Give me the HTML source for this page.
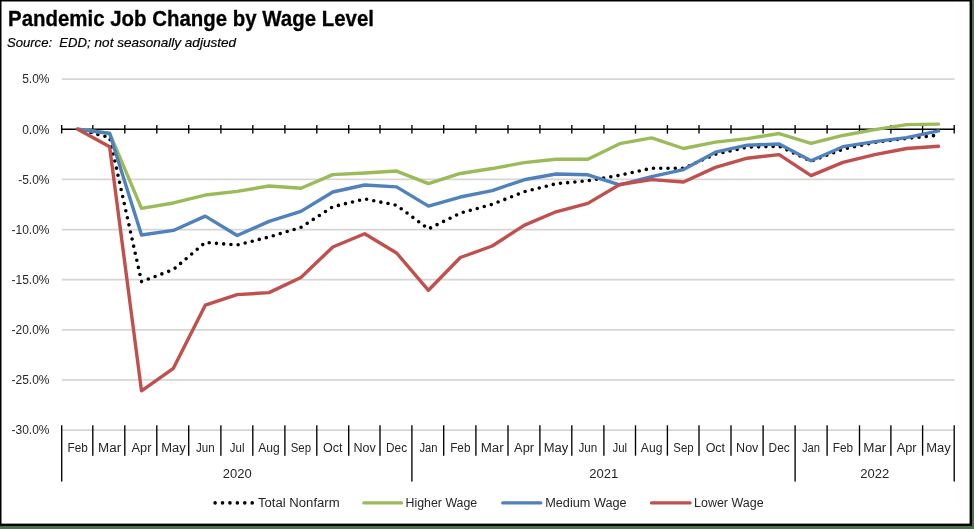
<!DOCTYPE html><html><head><meta charset="utf-8"><style>html,body{margin:0;padding:0;background:#4a744e;}svg{display:block;will-change:transform}</style></head><body>
<svg width="974" height="529" viewBox="0 0 974 529">
<rect x="0" y="0" width="974" height="529" fill="#4a744e"/>
<rect x="0" y="0" width="972" height="526" fill="#000"/>
<rect x="1.5" y="1.5" width="968.1" height="522.1" fill="#fff"/>
<text x="8.0" y="26.1" font-family="&quot;Liberation Sans&quot;, sans-serif" font-weight="bold" font-size="21.5" fill="#000" stroke="#000" stroke-width="0.3" textLength="366"  lengthAdjust="spacingAndGlyphs">Pandemic Job Change by Wage Level</text>
<text x="6.9" y="46.6" font-family="&quot;Liberation Sans&quot;, sans-serif" font-style="italic" font-size="13" fill="#000" stroke="#000" stroke-width="0.2" textLength="83.8" lengthAdjust="spacingAndGlyphs" xml:space="preserve">Source:  EDD;</text>
<text x="94.6" y="46.6" font-family="&quot;Liberation Sans&quot;, sans-serif" font-style="italic" font-size="13" fill="#000" stroke="#000" stroke-width="0.2" textLength="141.4" lengthAdjust="spacingAndGlyphs">not seasonally adjusted</text>
<line x1="61.80" y1="79.09" x2="954.50" y2="79.09" stroke="#d6d6d6" stroke-width="1.7"/>
<line x1="61.80" y1="179.38" x2="954.50" y2="179.38" stroke="#d6d6d6" stroke-width="1.7"/>
<line x1="61.80" y1="229.53" x2="954.50" y2="229.53" stroke="#d6d6d6" stroke-width="1.7"/>
<line x1="61.80" y1="279.68" x2="954.50" y2="279.68" stroke="#d6d6d6" stroke-width="1.7"/>
<line x1="61.80" y1="329.82" x2="954.50" y2="329.82" stroke="#d6d6d6" stroke-width="1.7"/>
<line x1="61.80" y1="379.97" x2="954.50" y2="379.97" stroke="#d6d6d6" stroke-width="1.7"/>
<line x1="61.80" y1="430.11" x2="954.50" y2="430.11" stroke="#d6d6d6" stroke-width="1.7"/>
<text x="49.5" y="83.39" font-family="&quot;Liberation Sans&quot;, sans-serif" font-size="12" fill="#262626" text-anchor="end">5.0%</text>
<text x="49.5" y="133.54" font-family="&quot;Liberation Sans&quot;, sans-serif" font-size="12" fill="#262626" text-anchor="end">0.0%</text>
<text x="49.5" y="183.68" font-family="&quot;Liberation Sans&quot;, sans-serif" font-size="12" fill="#262626" text-anchor="end">-5.0%</text>
<text x="49.5" y="233.83" font-family="&quot;Liberation Sans&quot;, sans-serif" font-size="12" fill="#262626" text-anchor="end">-10.0%</text>
<text x="49.5" y="283.97" font-family="&quot;Liberation Sans&quot;, sans-serif" font-size="12" fill="#262626" text-anchor="end">-15.0%</text>
<text x="49.5" y="334.12" font-family="&quot;Liberation Sans&quot;, sans-serif" font-size="12" fill="#262626" text-anchor="end">-20.0%</text>
<text x="49.5" y="384.26" font-family="&quot;Liberation Sans&quot;, sans-serif" font-size="12" fill="#262626" text-anchor="end">-25.0%</text>
<text x="49.5" y="434.41" font-family="&quot;Liberation Sans&quot;, sans-serif" font-size="12" fill="#262626" text-anchor="end">-30.0%</text>
<line x1="61.80" y1="129.14" x2="954.50" y2="129.14" stroke="#000" stroke-width="1.5"/>
<line x1="61.70" y1="125" x2="61.70" y2="133.6" stroke="#000" stroke-width="1.35"/>
<line x1="92.80" y1="125" x2="92.80" y2="133.6" stroke="#000" stroke-width="1.35"/>
<line x1="124.80" y1="125" x2="124.80" y2="133.6" stroke="#000" stroke-width="1.35"/>
<line x1="156.80" y1="125" x2="156.80" y2="133.6" stroke="#000" stroke-width="1.35"/>
<line x1="188.70" y1="125" x2="188.70" y2="133.6" stroke="#000" stroke-width="1.35"/>
<line x1="220.90" y1="125" x2="220.90" y2="133.6" stroke="#000" stroke-width="1.35"/>
<line x1="252.80" y1="125" x2="252.80" y2="133.6" stroke="#000" stroke-width="1.35"/>
<line x1="284.90" y1="125" x2="284.90" y2="133.6" stroke="#000" stroke-width="1.35"/>
<line x1="316.80" y1="125" x2="316.80" y2="133.6" stroke="#000" stroke-width="1.35"/>
<line x1="348.70" y1="125" x2="348.70" y2="133.6" stroke="#000" stroke-width="1.35"/>
<line x1="380.00" y1="125" x2="380.00" y2="133.6" stroke="#000" stroke-width="1.35"/>
<line x1="411.90" y1="125" x2="411.90" y2="133.6" stroke="#000" stroke-width="1.35"/>
<line x1="443.70" y1="125" x2="443.70" y2="133.6" stroke="#000" stroke-width="1.35"/>
<line x1="475.90" y1="125" x2="475.90" y2="133.6" stroke="#000" stroke-width="1.35"/>
<line x1="508.00" y1="125" x2="508.00" y2="133.6" stroke="#000" stroke-width="1.35"/>
<line x1="539.90" y1="125" x2="539.90" y2="133.6" stroke="#000" stroke-width="1.35"/>
<line x1="571.80" y1="125" x2="571.80" y2="133.6" stroke="#000" stroke-width="1.35"/>
<line x1="603.90" y1="125" x2="603.90" y2="133.6" stroke="#000" stroke-width="1.35"/>
<line x1="635.50" y1="125" x2="635.50" y2="133.6" stroke="#000" stroke-width="1.35"/>
<line x1="667.40" y1="125" x2="667.40" y2="133.6" stroke="#000" stroke-width="1.35"/>
<line x1="699.00" y1="125" x2="699.00" y2="133.6" stroke="#000" stroke-width="1.35"/>
<line x1="731.00" y1="125" x2="731.00" y2="133.6" stroke="#000" stroke-width="1.35"/>
<line x1="763.10" y1="125" x2="763.10" y2="133.6" stroke="#000" stroke-width="1.35"/>
<line x1="795.10" y1="125" x2="795.10" y2="133.6" stroke="#000" stroke-width="1.35"/>
<line x1="827.10" y1="125" x2="827.10" y2="133.6" stroke="#000" stroke-width="1.35"/>
<line x1="859.50" y1="125" x2="859.50" y2="133.6" stroke="#000" stroke-width="1.35"/>
<line x1="890.90" y1="125" x2="890.90" y2="133.6" stroke="#000" stroke-width="1.35"/>
<line x1="922.60" y1="125" x2="922.60" y2="133.6" stroke="#000" stroke-width="1.35"/>
<line x1="954.20" y1="125" x2="954.20" y2="133.6" stroke="#000" stroke-width="1.35"/>
<line x1="61.70" y1="425.3" x2="61.70" y2="481.5" stroke="#000" stroke-width="1.35"/>
<line x1="92.80" y1="425.3" x2="92.80" y2="455.7" stroke="#000" stroke-width="1.35"/>
<line x1="124.80" y1="425.3" x2="124.80" y2="455.7" stroke="#000" stroke-width="1.35"/>
<line x1="156.80" y1="425.3" x2="156.80" y2="455.7" stroke="#000" stroke-width="1.35"/>
<line x1="188.70" y1="425.3" x2="188.70" y2="455.7" stroke="#000" stroke-width="1.35"/>
<line x1="220.90" y1="425.3" x2="220.90" y2="455.7" stroke="#000" stroke-width="1.35"/>
<line x1="252.80" y1="425.3" x2="252.80" y2="455.7" stroke="#000" stroke-width="1.35"/>
<line x1="284.90" y1="425.3" x2="284.90" y2="455.7" stroke="#000" stroke-width="1.35"/>
<line x1="316.80" y1="425.3" x2="316.80" y2="455.7" stroke="#000" stroke-width="1.35"/>
<line x1="348.70" y1="425.3" x2="348.70" y2="455.7" stroke="#000" stroke-width="1.35"/>
<line x1="380.00" y1="425.3" x2="380.00" y2="455.7" stroke="#000" stroke-width="1.35"/>
<line x1="411.90" y1="425.3" x2="411.90" y2="481.5" stroke="#000" stroke-width="1.35"/>
<line x1="443.70" y1="425.3" x2="443.70" y2="455.7" stroke="#000" stroke-width="1.35"/>
<line x1="475.90" y1="425.3" x2="475.90" y2="455.7" stroke="#000" stroke-width="1.35"/>
<line x1="508.00" y1="425.3" x2="508.00" y2="455.7" stroke="#000" stroke-width="1.35"/>
<line x1="539.90" y1="425.3" x2="539.90" y2="455.7" stroke="#000" stroke-width="1.35"/>
<line x1="571.80" y1="425.3" x2="571.80" y2="455.7" stroke="#000" stroke-width="1.35"/>
<line x1="603.90" y1="425.3" x2="603.90" y2="455.7" stroke="#000" stroke-width="1.35"/>
<line x1="635.50" y1="425.3" x2="635.50" y2="455.7" stroke="#000" stroke-width="1.35"/>
<line x1="667.40" y1="425.3" x2="667.40" y2="455.7" stroke="#000" stroke-width="1.35"/>
<line x1="699.00" y1="425.3" x2="699.00" y2="455.7" stroke="#000" stroke-width="1.35"/>
<line x1="731.00" y1="425.3" x2="731.00" y2="455.7" stroke="#000" stroke-width="1.35"/>
<line x1="763.10" y1="425.3" x2="763.10" y2="455.7" stroke="#000" stroke-width="1.35"/>
<line x1="795.10" y1="425.3" x2="795.10" y2="481.5" stroke="#000" stroke-width="1.35"/>
<line x1="827.10" y1="425.3" x2="827.10" y2="455.7" stroke="#000" stroke-width="1.35"/>
<line x1="859.50" y1="425.3" x2="859.50" y2="455.7" stroke="#000" stroke-width="1.35"/>
<line x1="890.90" y1="425.3" x2="890.90" y2="455.7" stroke="#000" stroke-width="1.35"/>
<line x1="922.60" y1="425.3" x2="922.60" y2="455.7" stroke="#000" stroke-width="1.35"/>
<line x1="954.20" y1="425.3" x2="954.20" y2="481.5" stroke="#000" stroke-width="1.35"/>
<text x="77.74" y="452.2" font-family="&quot;Liberation Sans&quot;, sans-serif" font-size="12" fill="#262626" text-anchor="middle" textLength="20.30" lengthAdjust="spacingAndGlyphs">Feb</text>
<text x="109.62" y="452.2" font-family="&quot;Liberation Sans&quot;, sans-serif" font-size="12" fill="#262626" text-anchor="middle" textLength="23.06" lengthAdjust="spacingAndGlyphs">Mar</text>
<text x="141.50" y="452.2" font-family="&quot;Liberation Sans&quot;, sans-serif" font-size="12" fill="#262626" text-anchor="middle" textLength="19.91" lengthAdjust="spacingAndGlyphs">Apr</text>
<text x="173.39" y="452.2" font-family="&quot;Liberation Sans&quot;, sans-serif" font-size="12" fill="#262626" text-anchor="middle" textLength="24.48" lengthAdjust="spacingAndGlyphs">May</text>
<text x="205.27" y="452.2" font-family="&quot;Liberation Sans&quot;, sans-serif" font-size="12" fill="#262626" text-anchor="middle" textLength="18.74" lengthAdjust="spacingAndGlyphs">Jun</text>
<text x="237.15" y="452.2" font-family="&quot;Liberation Sans&quot;, sans-serif" font-size="12" fill="#262626" text-anchor="middle" textLength="14.69" lengthAdjust="spacingAndGlyphs">Jul</text>
<text x="269.03" y="452.2" font-family="&quot;Liberation Sans&quot;, sans-serif" font-size="12" fill="#262626" text-anchor="middle" textLength="21.58" lengthAdjust="spacingAndGlyphs">Aug</text>
<text x="300.92" y="452.2" font-family="&quot;Liberation Sans&quot;, sans-serif" font-size="12" fill="#262626" text-anchor="middle" textLength="20.30" lengthAdjust="spacingAndGlyphs">Sep</text>
<text x="332.80" y="452.2" font-family="&quot;Liberation Sans&quot;, sans-serif" font-size="12" fill="#262626" text-anchor="middle" textLength="19.45" lengthAdjust="spacingAndGlyphs">Oct</text>
<text x="364.68" y="452.2" font-family="&quot;Liberation Sans&quot;, sans-serif" font-size="12" fill="#262626" text-anchor="middle" textLength="22.26" lengthAdjust="spacingAndGlyphs">Nov</text>
<text x="396.56" y="452.2" font-family="&quot;Liberation Sans&quot;, sans-serif" font-size="12" fill="#262626" text-anchor="middle" textLength="21.04" lengthAdjust="spacingAndGlyphs">Dec</text>
<text x="428.44" y="452.2" font-family="&quot;Liberation Sans&quot;, sans-serif" font-size="12" fill="#262626" text-anchor="middle" textLength="18.11" lengthAdjust="spacingAndGlyphs">Jan</text>
<text x="460.33" y="452.2" font-family="&quot;Liberation Sans&quot;, sans-serif" font-size="12" fill="#262626" text-anchor="middle" textLength="20.30" lengthAdjust="spacingAndGlyphs">Feb</text>
<text x="492.21" y="452.2" font-family="&quot;Liberation Sans&quot;, sans-serif" font-size="12" fill="#262626" text-anchor="middle" textLength="23.06" lengthAdjust="spacingAndGlyphs">Mar</text>
<text x="524.09" y="452.2" font-family="&quot;Liberation Sans&quot;, sans-serif" font-size="12" fill="#262626" text-anchor="middle" textLength="19.91" lengthAdjust="spacingAndGlyphs">Apr</text>
<text x="555.97" y="452.2" font-family="&quot;Liberation Sans&quot;, sans-serif" font-size="12" fill="#262626" text-anchor="middle" textLength="24.48" lengthAdjust="spacingAndGlyphs">May</text>
<text x="587.85" y="452.2" font-family="&quot;Liberation Sans&quot;, sans-serif" font-size="12" fill="#262626" text-anchor="middle" textLength="18.74" lengthAdjust="spacingAndGlyphs">Jun</text>
<text x="619.74" y="452.2" font-family="&quot;Liberation Sans&quot;, sans-serif" font-size="12" fill="#262626" text-anchor="middle" textLength="14.69" lengthAdjust="spacingAndGlyphs">Jul</text>
<text x="651.62" y="452.2" font-family="&quot;Liberation Sans&quot;, sans-serif" font-size="12" fill="#262626" text-anchor="middle" textLength="21.58" lengthAdjust="spacingAndGlyphs">Aug</text>
<text x="683.50" y="452.2" font-family="&quot;Liberation Sans&quot;, sans-serif" font-size="12" fill="#262626" text-anchor="middle" textLength="20.30" lengthAdjust="spacingAndGlyphs">Sep</text>
<text x="715.38" y="452.2" font-family="&quot;Liberation Sans&quot;, sans-serif" font-size="12" fill="#262626" text-anchor="middle" textLength="19.45" lengthAdjust="spacingAndGlyphs">Oct</text>
<text x="747.26" y="452.2" font-family="&quot;Liberation Sans&quot;, sans-serif" font-size="12" fill="#262626" text-anchor="middle" textLength="22.26" lengthAdjust="spacingAndGlyphs">Nov</text>
<text x="779.14" y="452.2" font-family="&quot;Liberation Sans&quot;, sans-serif" font-size="12" fill="#262626" text-anchor="middle" textLength="21.04" lengthAdjust="spacingAndGlyphs">Dec</text>
<text x="811.03" y="452.2" font-family="&quot;Liberation Sans&quot;, sans-serif" font-size="12" fill="#262626" text-anchor="middle" textLength="18.11" lengthAdjust="spacingAndGlyphs">Jan</text>
<text x="842.91" y="452.2" font-family="&quot;Liberation Sans&quot;, sans-serif" font-size="12" fill="#262626" text-anchor="middle" textLength="20.30" lengthAdjust="spacingAndGlyphs">Feb</text>
<text x="874.79" y="452.2" font-family="&quot;Liberation Sans&quot;, sans-serif" font-size="12" fill="#262626" text-anchor="middle" textLength="23.06" lengthAdjust="spacingAndGlyphs">Mar</text>
<text x="906.67" y="452.2" font-family="&quot;Liberation Sans&quot;, sans-serif" font-size="12" fill="#262626" text-anchor="middle" textLength="19.91" lengthAdjust="spacingAndGlyphs">Apr</text>
<text x="938.55" y="452.2" font-family="&quot;Liberation Sans&quot;, sans-serif" font-size="12" fill="#262626" text-anchor="middle" textLength="24.48" lengthAdjust="spacingAndGlyphs">May</text>
<text x="237.15" y="478.3" font-family="&quot;Liberation Sans&quot;, sans-serif" font-size="13" fill="#262626" text-anchor="middle">2020</text>
<text x="603.79" y="478.3" font-family="&quot;Liberation Sans&quot;, sans-serif" font-size="13" fill="#262626" text-anchor="middle">2021</text>
<text x="874.79" y="478.3" font-family="&quot;Liberation Sans&quot;, sans-serif" font-size="13" fill="#262626" text-anchor="middle">2022</text>
<polyline points="77.74,129.14 109.62,137.46 141.50,281.58 173.39,269.55 205.27,242.47 237.15,244.97 269.03,236.95 300.92,227.42 332.80,206.76 364.68,198.94 396.56,205.26 428.44,228.93 460.33,213.08 492.21,204.36 524.09,191.82 555.97,183.70 587.85,180.79 619.74,175.27 651.62,168.25 683.50,168.25 715.38,154.21 747.26,147.19 779.14,146.19 811.03,161.23 842.91,149.20 874.79,142.38 906.67,138.37 938.55,135.16" fill="none" stroke="#000" stroke-width="3.6" stroke-linecap="round" stroke-linejoin="round" stroke-dasharray="0 7.26" stroke-dashoffset="0.95"/>
<polyline points="77.74,129.14 109.62,133.15 141.50,208.37 173.39,202.95 205.27,195.03 237.15,191.32 269.03,186.00 300.92,188.31 332.80,174.67 364.68,173.07 396.56,171.06 428.44,183.60 460.33,173.47 492.21,168.55 524.09,162.64 555.97,159.23 587.85,159.23 619.74,143.68 651.62,137.87 683.50,148.50 715.38,142.18 747.26,138.67 779.14,133.55 811.03,143.28 842.91,135.46 874.79,129.64 906.67,124.63 938.55,124.13" fill="none" stroke="#9bbb59" stroke-width="3.4" stroke-linecap="round" stroke-linejoin="round"/>
<polyline points="77.74,129.14 109.62,133.55 141.50,234.95 173.39,230.43 205.27,216.09 237.15,235.45 269.03,221.41 300.92,211.38 332.80,192.02 364.68,185.00 396.56,186.91 428.44,206.16 460.33,197.04 492.21,190.62 524.09,179.79 555.97,173.97 587.85,174.77 619.74,184.90 651.62,176.58 683.50,169.56 715.38,152.21 747.26,145.19 779.14,143.98 811.03,160.73 842.91,146.69 874.79,141.68 906.67,137.66 938.55,130.95" fill="none" stroke="#4f81bd" stroke-width="3.4" stroke-linecap="round" stroke-linejoin="round"/>
<polyline points="77.74,129.14 109.62,146.69 141.50,390.90 173.39,368.33 205.27,305.15 237.15,294.62 269.03,292.61 300.92,277.57 332.80,246.98 364.68,233.74 396.56,253.00 428.44,290.31 460.33,257.51 492.21,245.98 524.09,225.42 555.97,211.78 587.85,203.35 619.74,184.50 651.62,179.59 683.50,181.99 715.38,167.35 747.26,158.22 779.14,154.61 811.03,175.57 842.91,162.44 874.79,154.61 906.67,148.50 938.55,146.19" fill="none" stroke="#c0504d" stroke-width="3.4" stroke-linecap="round" stroke-linejoin="round"/>
<circle cx="215.10" cy="502.9" r="1.8" fill="#000"/>
<circle cx="222.52" cy="502.9" r="1.8" fill="#000"/>
<circle cx="229.94" cy="502.9" r="1.8" fill="#000"/>
<circle cx="237.36" cy="502.9" r="1.8" fill="#000"/>
<circle cx="244.78" cy="502.9" r="1.8" fill="#000"/>
<circle cx="252.20" cy="502.9" r="1.8" fill="#000"/>
<text x="258" y="506.8" font-family="&quot;Liberation Sans&quot;, sans-serif" font-size="12.5" fill="#262626" textLength="81.6" lengthAdjust="spacingAndGlyphs">Total Nonfarm</text>
<line x1="363.8" y1="502.9" x2="401.6" y2="502.9" stroke="#9bbb59" stroke-width="3.2" stroke-linecap="round"/>
<text x="405.6" y="506.8" font-family="&quot;Liberation Sans&quot;, sans-serif" font-size="12.5" fill="#262626" textLength="71.6" lengthAdjust="spacingAndGlyphs">Higher Wage</text>
<line x1="502.7" y1="502.9" x2="540.8" y2="502.9" stroke="#4f81bd" stroke-width="3.2" stroke-linecap="round"/>
<text x="545.2" y="506.8" font-family="&quot;Liberation Sans&quot;, sans-serif" font-size="12.5" fill="#262626" textLength="81.4" lengthAdjust="spacingAndGlyphs">Medium Wage</text>
<line x1="651.4" y1="502.9" x2="690.1" y2="502.9" stroke="#c0504d" stroke-width="3.2" stroke-linecap="round"/>
<text x="694.0" y="506.8" font-family="&quot;Liberation Sans&quot;, sans-serif" font-size="12.5" fill="#262626" textLength="69.6" lengthAdjust="spacingAndGlyphs">Lower Wage</text>
</svg></body></html>
